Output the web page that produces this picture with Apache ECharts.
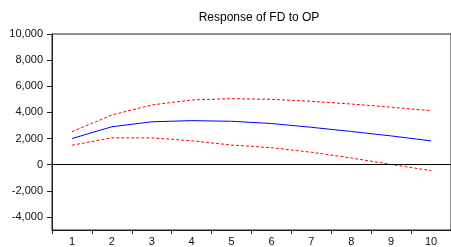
<!DOCTYPE html>
<html>
<head>
<meta charset="utf-8">
<script src="https://cdn.jsdelivr.net/npm/echarts@6/dist/echarts.min.js"></script>
<style>
  html, body { margin: 0; padding: 0; background: #fff; }
  #main { width: 451px; height: 247px; }
</style>
</head>
<body>
<div id="main"></div>
<script>
var periods = ["1", "2", "3", "4", "5", "6", "7", "8", "9", "10"];
var response = [2000, 2900, 3280, 3370, 3320, 3150, 2860, 2540, 2200, 1820];
var upperBand = [2520, 3800, 4570, 4950, 5050, 5000, 4850, 4640, 4400, 4130];
var lowerBand = [1490, 2050, 2050, 1830, 1500, 1300, 950, 510, 20, -460];
var yTicks = [-4000, -2000, 0, 2000, 4000, 6000, 8000, 10000];

var chart = echarts.init(document.getElementById("main"));

var fmt = function (v) {
    return echarts.format.addCommas(v);
};

chart.setOption({
    animation: false,
    textStyle: { fontFamily: "Liberation Sans" },
    title: {
        text: "Response of FD to OP",
        left: 254,
        top: 7,
        textAlign: "center",
        textStyle: { fontSize: 12, fontWeight: "normal", color: "#000" }
    },
    grid: {
        left: 52,
        right: -5,
        top: 34,
        bottom: 16,
        show: true,
        borderColor: "#222",
        borderWidth: 1
    },
    xAxis: {
        type: "category",
        data: periods,
        boundaryGap: true,
        axisLine: { onZero: false, lineStyle: { color: "#222" } },
        axisTick: { show: true, length: 4, lineStyle: { color: "#222" } },
        axisLabel: { color: "#111", fontSize: 11, margin: 6 },
        splitLine: { show: false }
    },
    yAxis: {
        type: "value",
        min: -5000,
        max: 10000,
        axisLine: { show: true, lineStyle: { color: "#222" } },
        axisTick: { show: true, length: 5, customValues: yTicks, lineStyle: { color: "#222" } },
        axisLabel: { color: "#111", fontSize: 11, margin: 9, customValues: yTicks, formatter: fmt },
        splitLine: { show: false }
    },
    series: [
        {
            type: "line",
            data: upperBand,
            symbol: "none",
            lineStyle: { color: "#ff0000", width: 1, type: [3, 2] }
        },
        {
            type: "line",
            data: response,
            symbol: "none",
            lineStyle: { color: "#0000ff", width: 1 },
            markLine: {
                silent: true,
                symbol: "none",
                label: { show: false },
                lineStyle: { color: "#000", width: 1, type: "solid" },
                data: [{ yAxis: 0 }]
            }
        },
        {
            type: "line",
            data: lowerBand,
            symbol: "none",
            lineStyle: { color: "#ff0000", width: 1, type: [3, 2] }
        }
    ]
});
</script>
</body>
</html>
